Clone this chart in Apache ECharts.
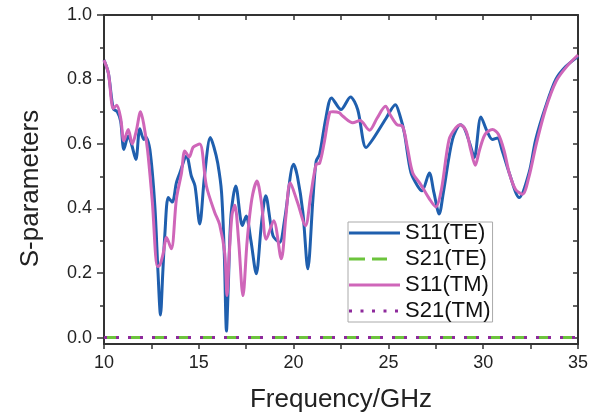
<!DOCTYPE html>
<html>
<head>
<meta charset="utf-8">
<script src="https://cdn.jsdelivr.net/npm/echarts@6/dist/echarts.min.js"></script>
<style>
html,body{margin:0;padding:0;background:#fff;}
#chart{width:591px;height:418px;}
</style>
</head>
<body>
<div id="chart"></div>
<script>
// ---- data ----
const freqTE = [10,10.23,10.49,10.7,10.88,11.05,11.28,11.45,11.68,11.89,12.1,12.2,12.42,12.68,12.85,12.98,13.1,13.21,13.39,13.6,13.82,14.0,14.35,14.61,14.8,15.05,15.3,15.61,15.8,16.0,16.2,16.35,16.46,16.55,16.7,16.95,17.3,17.5,17.75,18.03,18.3,18.53,18.91,19.26,19.53,20.0,20.2,20.49,20.75,21.02,21.19,21.37,21.7,22.0,22.5,23.0,23.38,23.82,24.17,24.88,25.37,25.6,25.84,26.19,26.54,26.77,27.16,27.4,27.68,27.9,28.38,28.8,29.0,29.3,29.53,29.88,30.2,30.49,30.75,31.0,31.37,31.9,32.42,32.77,33.3,33.83,34.35,35];
const s11TE = [0.86,0.82,0.71,0.70,0.67,0.583,0.625,0.60,0.552,0.647,0.614,0.622,0.583,0.41,0.20,0.07,0.20,0.32,0.434,0.42,0.48,0.51,0.563,0.50,0.47,0.352,0.50,0.62,0.59,0.54,0.45,0.25,0.02,0.15,0.38,0.47,0.347,0.377,0.30,0.198,0.35,0.44,0.316,0.295,0.367,0.537,0.50,0.388,0.213,0.43,0.547,0.568,0.68,0.743,0.707,0.746,0.707,0.589,0.614,0.68,0.722,0.69,0.635,0.511,0.47,0.455,0.51,0.45,0.383,0.45,0.614,0.66,0.65,0.60,0.558,0.684,0.64,0.614,0.619,0.58,0.511,0.434,0.511,0.614,0.717,0.80,0.84,0.871];

const freqTM = [10,10.23,10.49,10.67,10.88,11.05,11.28,11.49,11.7,11.93,12.1,12.3,12.55,12.82,12.95,13.12,13.3,13.55,13.82,14.09,14.26,14.5,14.7,15.05,15.4,15.84,16.1,16.37,16.49,16.6,16.75,16.9,17.1,17.33,17.55,17.8,18.07,18.3,18.56,18.95,19.35,19.6,19.82,20.2,20.63,20.9,21.19,21.37,21.6,21.9,22.07,22.4,22.6,23.12,23.5,24.0,24.4,24.85,25.1,25.45,25.75,26.0,26.28,26.7,27.16,27.5,27.8,28.2,28.55,28.8,29.1,29.35,29.58,29.8,30.1,30.49,30.8,31.1,31.37,31.7,32.07,32.42,32.8,33.3,33.85,34.4,35];
const s11TM = [0.86,0.82,0.71,0.72,0.68,0.61,0.645,0.60,0.64,0.70,0.66,0.58,0.42,0.22,0.225,0.26,0.31,0.275,0.43,0.511,0.578,0.56,0.59,0.60,0.47,0.388,0.35,0.26,0.13,0.25,0.38,0.41,0.30,0.13,0.30,0.43,0.485,0.42,0.305,0.362,0.244,0.38,0.48,0.42,0.347,0.44,0.537,0.54,0.60,0.697,0.70,0.697,0.686,0.666,0.673,0.643,0.68,0.717,0.69,0.66,0.655,0.59,0.511,0.475,0.43,0.405,0.46,0.614,0.65,0.66,0.64,0.58,0.534,0.58,0.63,0.645,0.63,0.58,0.511,0.46,0.444,0.50,0.60,0.71,0.795,0.84,0.876];

const freqS21 = [10,35];
const s21TE = [0,0];
const s21TM = [0,0];

const seriesNames = ['S11(TE)','S21(TE)','S11(TM)','S21(TM)'];
const yMajorTicks = [0,0.2,0.4,0.6,0.8,1.0];
const yMinorTicks = [0.1,0.3,0.5,0.7,0.9];
const yAllTicks = [0,0.1,0.2,0.3,0.4,0.5,0.6,0.7,0.8,0.9,1.0];

const zip = (xs, ys) => xs.map((x,i)=>[x, ys[i]]);

const axisCol = '#333';
const font = 'Liberation Sans, Arial, sans-serif';

// legend icon shapes (solid, dashed, dotted), 51 x 3 px
const iconSolid = 'path://M0,0h51v3h-51z';
const iconDash = 'path://M0,0h16v3h-16zM23,0h15v3h-15zM51,0L51,3Z';
const iconDot = 'path://M0,0h3v3h-3zM11.5,0h3v3h-3zM23,0h3v3h-3zM34.5,0h3v3h-3zM46,0h3v3h-3zM51,0L51,3Z';
const icons = [iconSolid, iconDash, iconSolid, iconDot];

const chart = echarts.init(document.getElementById('chart'), null, {renderer:'canvas'});
chart.setOption({
  backgroundColor:'#fff',
  animation:false,
  grid:{left:104,right:12,top:15,bottom:72,containLabel:false},
  legend:{
    data:seriesNames.map((n,i)=>({name:n, icon:icons[i]})),
    orient:'vertical',
    left:348, top:222,
    itemWidth:51, itemHeight:3, itemGap:4,
    padding:[0,2,0,1],
    borderColor:'#aaa', borderWidth:1, backgroundColor:'#fff',
    textStyle:{fontSize:22, color:'#111', fontFamily:font, lineHeight:22}
  },
  xAxis:[
    {type:'value', position:'bottom', min:10, max:35, interval:2.5,
     axisLine:{show:true, onZero:false, lineStyle:{color:axisCol,width:2}},
     axisTick:{show:true, inside:false, length:5, lineStyle:{color:axisCol,width:1.5}},
     axisLabel:{fontSize:18, color:'#222', fontFamily:font, margin:10,
       formatter:v=> (Math.abs(v%5)<1e-9 ? String(v) : '')},
     splitLine:{show:false},
     name:'Frequency/GHz', nameLocation:'middle', nameGap:43,
     nameTextStyle:{fontSize:26, color:'#222', fontFamily:font}},
    {type:'value', position:'top', min:10, max:35, interval:2.5,
     axisLine:{show:true, onZero:false, lineStyle:{color:axisCol,width:2}},
     axisTick:{show:true, inside:true, length:5, lineStyle:{color:axisCol,width:1.5}},
     axisLabel:{show:false}, splitLine:{show:false}}
  ],
  yAxis:[
    {type:'value', position:'left', min:-0.02, max:1.0,
     axisLine:{show:true, onZero:false, lineStyle:{color:axisCol,width:2}},
     axisTick:{show:true, inside:false, length:7, customValues:yMajorTicks, lineStyle:{color:axisCol,width:1.5}},
     axisLabel:{customValues:yMajorTicks, fontSize:18, color:'#222', fontFamily:font, margin:12,
       formatter:v=>v.toFixed(1)},
     splitLine:{show:false},
     name:'S-parameters', nameLocation:'middle', nameGap:60, nameRotate:90,
     nameTextStyle:{fontSize:26, color:'#222', fontFamily:font, padding:[0,18,0,0]}},
    {type:'value', position:'left', min:-0.02, max:1.0,
     axisLine:{show:false},
     axisTick:{show:true, inside:false, length:4, customValues:yMinorTicks, lineStyle:{color:axisCol,width:1.5}},
     axisLabel:{show:false}, splitLine:{show:false}},
    {type:'value', position:'right', min:-0.02, max:1.0,
     axisLine:{show:true, onZero:false, lineStyle:{color:axisCol,width:2}},
     axisTick:{show:true, inside:true, length:5, customValues:yAllTicks, lineStyle:{color:axisCol,width:1.5}},
     axisLabel:{show:false}, splitLine:{show:false}}
  ],
  series:[
    {name:seriesNames[0], type:'line', data:zip(freqTE,s11TE), smooth:0.3, symbol:'none',
     xAxisIndex:0, yAxisIndex:0, lineStyle:{color:'#1f5fae', width:3}, itemStyle:{color:'#1f5fae'}},
    {name:seriesNames[1], type:'line', data:zip(freqS21,s21TE), symbol:'none',
     lineStyle:{color:'#6cc43c', width:3, type:[13,11]}, itemStyle:{color:'#6cc43c'}},
    {name:seriesNames[2], type:'line', data:zip(freqTM,s11TM), smooth:0.3, symbol:'none',
     lineStyle:{color:'#cf66b9', width:3}, itemStyle:{color:'#cf66b9'}},
    {name:seriesNames[3], type:'line', data:zip(freqS21,s21TM), symbol:'none',
     lineStyle:{color:'#8e2a9c', width:3, type:[3,9]}, itemStyle:{color:'#8e2a9c'}}
  ]
});
</script>
</body>
</html>
